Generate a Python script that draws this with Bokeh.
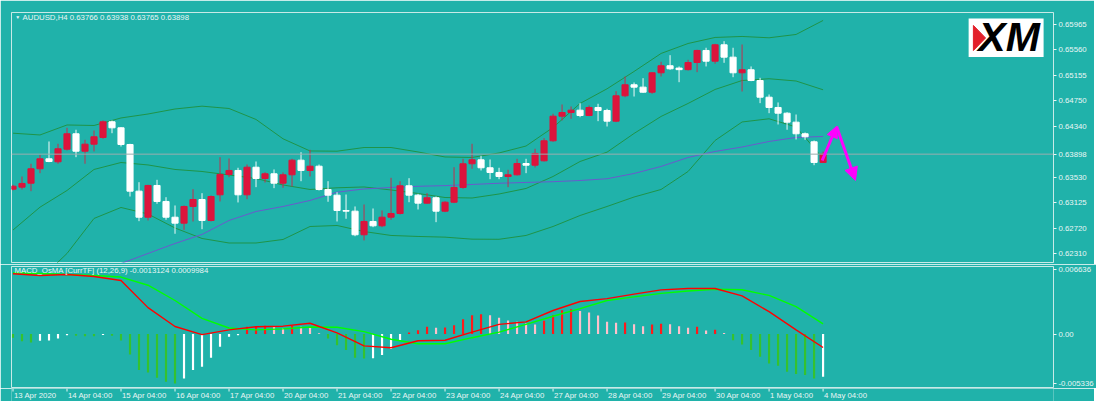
from bokeh.plotting import figure
from bokeh.layouts import column
from bokeh.models import (Range1d, FixedTicker, CustomJSTickFormatter, Span, Label,
                          ColumnDataSource, Arrow, NormalHead, BoxAnnotation)
from bokeh.core.properties import value
from bokeh.embed import file_html
from bokeh.resources import INLINE

BG = "#20B2AA"
TXT = "#EAF6F5"
FONT = "Liberation Sans"
FS = "7.8px"
MAG = "#FF00FF"

# ---------------- data ----------------
opens = [0.63340, 0.63372, 0.63435, 0.63665, 0.63824, 0.63776, 0.63977, 0.64223, 0.63945, 0.64057,
         0.64164, 0.64414, 0.64318, 0.64052, 0.63308, 0.62893, 0.63399, 0.63144, 0.62893, 0.62798,
         0.63064, 0.63175, 0.62841, 0.63250, 0.63574, 0.63638, 0.63250, 0.63690, 0.63510, 0.63585,
         0.63435, 0.63569, 0.63802, 0.63638, 0.63706, 0.63335, 0.63244, 0.63000, 0.62989, 0.62613,
         0.62825, 0.62756, 0.62893, 0.62952, 0.63394, 0.63244, 0.63117, 0.63203, 0.62989, 0.63132,
         0.63367, 0.63745, 0.63808, 0.63681, 0.63606, 0.63542, 0.63569, 0.63749, 0.63722, 0.63792,
         0.64111, 0.64503, 0.64562, 0.64599, 0.64514, 0.64642, 0.64594, 0.64424, 0.64828, 0.65004,
         0.64966, 0.64886, 0.65195, 0.65307, 0.65270, 0.65245, 0.65359, 0.65551, 0.65380, 0.65641,
         0.65444, 0.65195, 0.65243, 0.65072, 0.64806, 0.64642, 0.64551, 0.64408, 0.64223, 0.64095,
         0.63766]
highs = [0.63410, 0.63542, 0.63745, 0.63888, 0.64100, 0.64063, 0.64318, 0.64287, 0.64127, 0.64275,
         0.64435, 0.64435, 0.64328, 0.64063, 0.63451, 0.63410, 0.63489, 0.63212, 0.63080, 0.63080,
         0.63340, 0.63276, 0.63239, 0.63850, 0.63829, 0.63681, 0.63733, 0.63781, 0.63611, 0.63654,
         0.63606, 0.63824, 0.63929, 0.63968, 0.63733, 0.63467, 0.63292, 0.63255, 0.63064, 0.63096,
         0.63032, 0.63000, 0.63521, 0.63467, 0.63515, 0.63266, 0.63276, 0.63223, 0.63148, 0.63690,
         0.63824, 0.64063, 0.63872, 0.63813, 0.63681, 0.63649, 0.63824, 0.63824, 0.63984, 0.64153,
         0.64542, 0.64690, 0.64658, 0.64711, 0.64674, 0.64701, 0.64621, 0.64902, 0.65136, 0.65040,
         0.65109, 0.65205, 0.65370, 0.65476, 0.65296, 0.65402, 0.65562, 0.65594, 0.65657, 0.65699,
         0.65594, 0.65646, 0.65296, 0.65115, 0.64849, 0.64722, 0.64567, 0.64530, 0.64243, 0.64116,
         0.63938]
lows = [0.63319, 0.63335, 0.63308, 0.63595, 0.63770, 0.63745, 0.63957, 0.63850, 0.63745, 0.63941,
        0.64143, 0.64232, 0.64020, 0.63223, 0.62830, 0.62841, 0.63107, 0.62852, 0.62629, 0.62692,
        0.62825, 0.62702, 0.62825, 0.63144, 0.63531, 0.63128, 0.63180, 0.63372, 0.63446, 0.63356,
        0.63362, 0.63383, 0.63467, 0.63542, 0.63319, 0.63139, 0.62825, 0.62868, 0.62590, 0.62522,
        0.62734, 0.62734, 0.62852, 0.62936, 0.63132, 0.63016, 0.63107, 0.62814, 0.62973, 0.63117,
        0.63346, 0.63665, 0.63638, 0.63499, 0.63499, 0.63372, 0.63558, 0.63595, 0.63686, 0.63781,
        0.64095, 0.64435, 0.64462, 0.64487, 0.64503, 0.64424, 0.64339, 0.64408, 0.64806, 0.64817,
        0.64876, 0.64860, 0.65136, 0.65243, 0.65045, 0.65232, 0.65205, 0.65296, 0.65339, 0.65354,
        0.65125, 0.64897, 0.65061, 0.64711, 0.64551, 0.64371, 0.64287, 0.64132, 0.64127, 0.63722,
        0.63765]
closes = [0.63387, 0.63431, 0.63665, 0.63824, 0.63781, 0.63984, 0.64223, 0.63945, 0.64057, 0.64175,
          0.64414, 0.64318, 0.64052, 0.63308, 0.62893, 0.63399, 0.63144, 0.62893, 0.62798, 0.63064,
          0.63175, 0.62841, 0.63223, 0.63574, 0.63638, 0.63250, 0.63690, 0.63510, 0.63585, 0.63435,
          0.63569, 0.63802, 0.63638, 0.63706, 0.63335, 0.63244, 0.63000, 0.62989, 0.62613, 0.62825,
          0.62756, 0.62893, 0.62952, 0.63394, 0.63244, 0.63117, 0.63203, 0.62989, 0.63132, 0.63367,
          0.63745, 0.63808, 0.63681, 0.63606, 0.63542, 0.63569, 0.63749, 0.63722, 0.63909, 0.64111,
          0.64503, 0.64562, 0.64599, 0.64514, 0.64642, 0.64594, 0.64424, 0.64828, 0.65004, 0.64966,
          0.64886, 0.65195, 0.65307, 0.65259, 0.65245, 0.65359, 0.65551, 0.65380, 0.65641, 0.65444,
          0.65195, 0.65243, 0.65072, 0.64806, 0.64642, 0.64551, 0.64408, 0.64223, 0.64175, 0.63766,
          0.63898]

band_idx = list(range(0, 91, 3))
bb_upper = [0.64232, 0.64204, 0.64363, 0.64355, 0.64475, 0.64538, 0.64618, 0.64663, 0.64626, 0.64451,
            0.64143, 0.63949, 0.63945, 0.64004, 0.64004, 0.63933, 0.63853, 0.63845, 0.63917, 0.64028,
            0.64323, 0.64706, 0.64940, 0.65216, 0.65503, 0.65662, 0.65758, 0.65774, 0.65753, 0.65806,
            0.66029]
bb_middle = [0.62689, 0.63053, 0.63319, 0.63654, 0.63765, 0.63726, 0.63654, 0.63622, 0.63566, 0.63510,
             0.63407, 0.63335, 0.63362, 0.63375, 0.63327, 0.63271, 0.63207, 0.63199, 0.63263, 0.63351,
             0.63542, 0.63781, 0.63930, 0.64228, 0.64499, 0.64706, 0.64929, 0.65072, 0.65100, 0.65064,
             0.64924]
bb_lower = [0.61146, 0.61902, 0.62315, 0.62873, 0.63048, 0.62944, 0.62721, 0.62554, 0.62482, 0.62482,
            0.62538, 0.62745, 0.62761, 0.62665, 0.62602, 0.62586, 0.62575, 0.62543, 0.62541, 0.62602,
            0.62745, 0.62920, 0.63064, 0.63215, 0.63335, 0.63622, 0.64116, 0.64411, 0.64462, 0.64331,
            0.63829]
ma_idx = list(range(9, 91, 3))
ma_slow = [0.62044, 0.62155, 0.62315, 0.62474, 0.62618, 0.62841, 0.62984, 0.63064, 0.63160, 0.63292,
           0.63343, 0.63367, 0.63386, 0.63396, 0.63415, 0.63434, 0.63447, 0.63459, 0.63478, 0.63506,
           0.63590, 0.63702, 0.63845, 0.63941, 0.64012, 0.64100, 0.64164, 0.64180]

macd_line = [0.00592, 0.00575, 0.00585, 0.00565, 0.00526, 0.00260, 0.00075, -0.00005, 0.00042, 0.00073,
             0.00078, 0.00107, 0.00013, -0.00115, -0.00134, -0.00065, -0.00060, 0.00020, 0.00096, 0.00120,
             0.00232, 0.00320, 0.00348, 0.00393, 0.00434, 0.00448, 0.00448, 0.00375, 0.00220, 0.00042,
             -0.00131]
signal_line = [0.00602, 0.00595, 0.00585, 0.00575, 0.00560, 0.00480, 0.00330, 0.00155, 0.00060, 0.00042,
               0.00052, 0.00070, 0.00068, 0.00025, -0.00050, -0.00095, -0.00095, -0.00035, 0.00020, 0.00095,
               0.00175, 0.00250, 0.00330, 0.00365, 0.00400, 0.00423, 0.00440, 0.00435, 0.00380, 0.00270,
               0.00100]
osma = [-0.00036, -0.00069, -0.00082, -0.00065, -0.00062, -0.00042, -0.00010, -0.00015, -0.00020, -0.00022,
        -0.00008, -0.00017, -0.00062, -0.00199, -0.00353, -0.00376, -0.00429, -0.00468, -0.00484, -0.00435,
        -0.00353, -0.00321, -0.00233, -0.00125, -0.00026, -0.00010, 0.00072, 0.00075, 0.00082, 0.00072,
        0.00056, 0.00082, 0.00072, 0.00070, 0.00008, -0.00042, -0.00108, -0.00157, -0.00232, -0.00239,
        -0.00236, -0.00206, -0.00147, -0.00059, 0.00016, 0.00039, 0.00072, 0.00062, 0.00065, 0.00088,
        0.00147, 0.00186, 0.00196, 0.00186, 0.00160, 0.00134, 0.00121, 0.00105, 0.00095, 0.00131,
        0.00186, 0.00235, 0.00245, 0.00226, 0.00213, 0.00183, 0.00121, 0.00111, 0.00113, 0.00098,
        0.00078, 0.00095, 0.00101, 0.00098, 0.00078, 0.00062, 0.00072, 0.00036, 0.00042, 0.00010,
        -0.00059, -0.00101, -0.00157, -0.00222, -0.00288, -0.00311, -0.00370, -0.00392, -0.00402, -0.00435,
        -0.00419]

time_tick_idx = list(range(0, 91, 6))
time_tick_labels = ["13 Apr 2020", "14 Apr 04:00", "15 Apr 04:00", "16 Apr 04:00", "17 Apr 04:00",
                    "20 Apr 04:00", "21 Apr 04:00", "22 Apr 04:00", "23 Apr 04:00", "24 Apr 04:00",
                    "27 Apr 04:00", "28 Apr 04:00", "29 Apr 04:00", "30 Apr 04:00", "1 May 04:00",
                    "4 May 04:00"]
last_price = 0.63898
price_ticks = [0.62310, 0.62720, 0.63125, 0.63530, last_price, 0.64340, 0.64750, 0.65155, 0.65560, 0.65965]
macd_min, macd_max = -0.005336, 0.006636
macd_tick_labels = ["-0.005336", "0.00", "0.006636"]
header_text = "AUDUSD,H4  0.63766 0.63938 0.63765 0.63898"
macd_text = "MACD_OsMA [CurrTF] (12,26,9) -0.0013124 0.0009984"

# forecast arrow (bar index, price)
arrow_x = [89.9, 91.5, 93.6]
arrow_y = [0.63797, 0.64339, 0.63478]

# ---------------- layout constants ----------------
LEFT = 11
RIGHT = 41
FRAME_W = 1042
MACD_H = 122

x_range = Range1d(-0.167, 115.6)


def style(p):
    p.background_fill_color = BG
    p.border_fill_color = BG
    p.outline_line_color = "#C8EAE7"
    p.outline_line_width = 1
    p.xgrid.visible = False
    p.ygrid.visible = False


def style_yaxis(ax):
    ax.axis_line_color = None
    ax.major_tick_line_color = TXT
    ax.major_tick_out = 3
    ax.major_tick_in = 0
    ax.minor_tick_line_color = None
    ax.major_label_text_color = TXT
    ax.major_label_text_font = FONT
    ax.major_label_text_font_size = FS
    ax.major_label_standoff = 2


# ---------------- main price pane ----------------
p1 = figure(frame_width=FRAME_W, frame_height=250, x_range=x_range,
            y_range=Range1d(0.62171, 0.66156), output_backend="svg", toolbar_location=None,
            x_axis_location=None, y_axis_location="right",
            min_border_left=LEFT, min_border_right=RIGHT, min_border_top=12, min_border_bottom=2)
style(p1)
style_yaxis(p1.yaxis[0])
p1.yaxis[0].ticker = FixedTicker(ticks=price_ticks)
p1.yaxis[0].formatter = CustomJSTickFormatter(code="return tick.toFixed(5);")

idx = list(range(len(opens)))
up = [c > o for o, c in zip(opens, closes)]
src = ColumnDataSource(dict(
    x=idx,
    top=[max(o, c) for o, c in zip(opens, closes)],
    bottom=[min(o, c) for o, c in zip(opens, closes)],
    high=highs, low=lows,
    fill=["#DC143C" if u else "#FFFFFF" for u in up],
    wick=["#C0304E" if u else "#F2FAFA" for u in up],
))

# XM logo (underlay box so the red wedge sits on top)
p1.add_layout(BoxAnnotation(left=106.17, right=114.50, bottom=0.65445, top=0.66061,
                            fill_color="white", fill_alpha=1.0, line_alpha=0, level="underlay"))
p1.patch([106.70, 108.05, 106.70], [0.65950, 0.65750, 0.65550], fill_color="#E3202A", line_color="#E3202A")
p1.add_layout(Label(x=107.25, y=0.65766, text="XM", text_font=FONT, text_font_size="41px",
                    text_font_style="bold italic", text_color="black", text_baseline="middle"))

p1.line(band_idx, bb_upper, line_color="#1F9448", line_width=1)
p1.line(band_idx, bb_middle, line_color="#1F9448", line_width=1)
p1.line(band_idx, bb_lower, line_color="#1F9448", line_width=1)
p1.line(ma_idx, ma_slow, line_color="#6A5ACD", line_width=1)

p1.add_layout(Span(location=last_price, dimension="width", line_color="#9AAEAE", line_width=1))

p1.segment(x0="x", y0="low", x1="x", y1="high", line_color="wick", line_width=1, source=src)
p1.vbar(x="x", width=0.68, top="top", bottom="bottom", fill_color="fill", line_color="fill",
        line_width=1, source=src)

p1.add_layout(Arrow(end=NormalHead(size=11, fill_color=MAG, line_color=MAG),
                    x_start=arrow_x[0], y_start=arrow_y[0], x_end=arrow_x[1], y_end=arrow_y[1],
                    line_color=MAG, line_width=3))
p1.add_layout(Arrow(end=NormalHead(size=13, fill_color=MAG, line_color=MAG),
                    x_start=arrow_x[1], y_start=arrow_y[1], x_end=arrow_x[2], y_end=arrow_y[2],
                    line_color=MAG, line_width=3))

p1.add_layout(Label(x=0.25, y=0.66077, text="\u25bc", text_font=FONT, text_font_size="5px",
                    text_color=TXT, text_baseline="middle"))
p1.add_layout(Label(x=1.06, y=0.66077, text=header_text, text_font=FONT, text_font_size=FS,
                    text_color=TXT, text_baseline="middle"))

# ---------------- MACD pane ----------------
p2 = figure(frame_width=FRAME_W, frame_height=MACD_H, x_range=x_range,
            y_range=Range1d(macd_min, macd_max), output_backend="svg", toolbar_location=None,
            x_axis_location=None, y_axis_location="right",
            min_border_left=LEFT, min_border_right=RIGHT, min_border_top=2, min_border_bottom=0)
style(p2)
style_yaxis(p2.yaxis[0])
# like MT4, the scale extremes are labelled a few pixels inside the pane
inset = 5 * (macd_max - macd_min) / MACD_H
macd_tick_pos = [macd_min + inset, 0.0, macd_max - 0.6 * inset]
p2.yaxis[0].ticker = FixedTicker(ticks=macd_tick_pos)
p2.yaxis[0].formatter = CustomJSTickFormatter(
    args=dict(pos=macd_tick_pos, labs=macd_tick_labels),
    code="let k = 0; for (let i = 0; i < pos.length; i++) { if (Math.abs(pos[i] - tick) < 1e-7) k = i; } return labs[k];")

colors = []
for i, h in enumerate(osma):
    prev = osma[i - 1] if i > 0 else h
    rising = h > prev
    if h >= 0:
        colors.append("#FF1A1A" if rising else "#FFC0CB")
    else:
        colors.append("#FFFFFF" if rising else "#35C22E")
p2.vbar(x=idx, top=osma, bottom=0, width=0.24, fill_color=colors, line_color=None)
p2.line(band_idx, signal_line, line_color="#00FF00", line_width=1.4)
p2.line(band_idx, macd_line, line_color="#FF0000", line_width=1.4)

p2.add_layout(Label(x=0.17, y=0.00622, text=macd_text, text_font=FONT, text_font_size=FS,
                    text_color=TXT, text_baseline="middle"))

# ---------------- time scale strip ----------------
p3 = figure(frame_width=FRAME_W, frame_height=13, x_range=x_range, y_range=Range1d(0, 13),
            output_backend="svg", toolbar_location=None,
            x_axis_location=None, y_axis_location=None,
            min_border_left=LEFT, min_border_right=RIGHT, min_border_top=0, min_border_bottom=0)
style(p3)
p3.outline_line_color = None
p3.segment(x0=time_tick_idx, x1=time_tick_idx, y0=[13] * len(time_tick_idx), y1=[10] * len(time_tick_idx),
           line_color=TXT, line_width=1)
p3.text(x=time_tick_idx, y=[6.5] * len(time_tick_idx), text=time_tick_labels, x_offset=1,
        text_align="left", text_baseline="middle", text_font=value(FONT), text_font_size=FS,
        text_color=TXT)

layout = column(p1, p2, p3, spacing=0)
open("out.html", "w").write(file_html(layout, INLINE))
